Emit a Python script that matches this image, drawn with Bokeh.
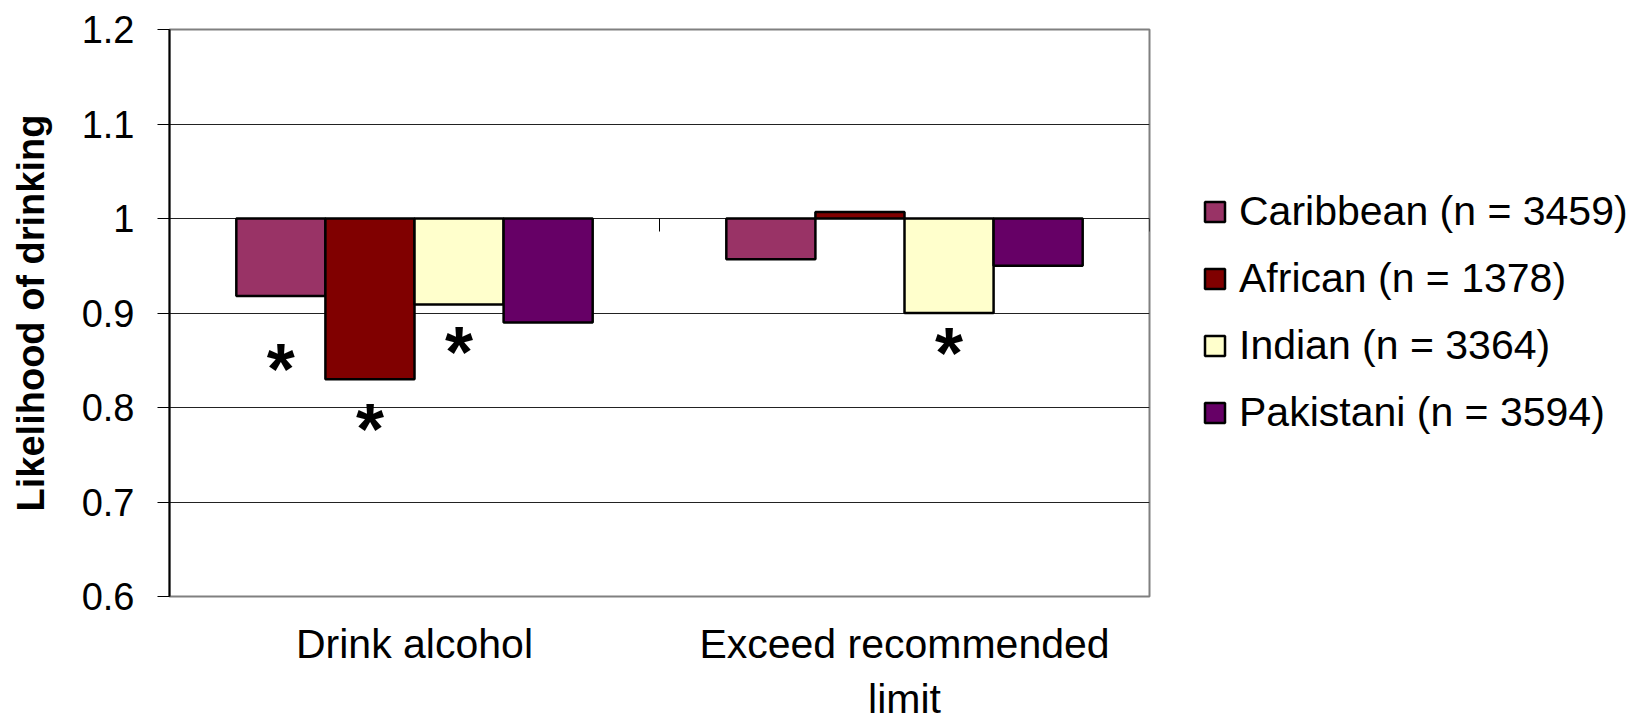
import math
from bokeh.plotting import figure
from bokeh.models import (ColumnDataSource, FactorRange, FixedTicker,
                          CustomJSTickFormatter, Legend, LegendItem)
from bokeh.transform import dodge
from bokeh.core.properties import value
from bokeh.embed import file_html
from bokeh.resources import INLINE

# ---------------- data ----------------
categories = ["Drink alcohol", "Exceed recommended\nlimit"]
series_names = ["Caribbean (n = 3459)", "African (n = 1378)",
                "Indian (n = 3364)", "Pakistani (n = 3594)"]
caribbean = [0.918, 0.957]
african = [0.830, 1.007]
indian = [0.909, 0.900]
pakistani = [0.890, 0.950]
series_values = [caribbean, african, indian, pakistani]
colors = ["#993366", "#800000", "#FFFFCC", "#660066"]
y_ticks = [0.6, 0.7, 0.8, 0.9, 1.0, 1.1, 1.2]
reference_value = 1.0  # bars grow from the axis crossing at 1

# significance markers (*)
star_category = [0, 0, 0, 1]
star_series = [0, 1, 2, 2]
star_value = [0.854, 0.791, 0.872, 0.871]

FONT = "Liberation Sans"
n = len(series_names)
gap_width = 1.5
bar_w = 1.0 / (n + gap_width)
offsets = [(i - (n - 1) / 2) * bar_w for i in range(n)]

p = figure(x_range=FactorRange(*categories), y_range=(y_ticks[0], y_ticks[-1]),
           frame_width=980, frame_height=567,
           output_backend="svg", toolbar_location=None,
           min_border_left=169, min_border_right=0, min_border_top=29,
           min_border_bottom=120)
p.background_fill_color = "white"
p.border_fill_color = "white"
p.outline_line_color = "#808080"
p.outline_line_width = 2

src = ColumnDataSource(dict(cat=categories,
                            **{f"s{i}": v for i, v in enumerate(series_values)},
                            base=[reference_value] * len(categories)))

items = []
for i, name in enumerate(series_names):
    r = p.vbar(x=dodge("cat", offsets[i], range=p.x_range), top=f"s{i}",
               bottom="base", width=bar_w, source=src,
               fill_color=colors[i], line_color="black", line_width=2.5)
    items.append(LegendItem(label=name, renderers=[r]))

# category boundary ticks on the horizontal axis (crossing at 1)
bx = list(range(1, len(categories) + 1))
p.ray(x=bx, y=[reference_value] * len(bx), length=13, length_units="screen",
      angle=-math.pi / 2, line_color="black", line_width=1)

# stars
sx = [c + 0.5 + offsets[s] for c, s in zip(star_category, star_series)]
star_src = ColumnDataSource(dict(x=sx, y=star_value, t=["*"] * len(sx)))
p.text(x="x", y="y", text="t", source=star_src, text_font=value(FONT),
       text_font_style="bold", text_font_size="72px", text_align="center",
       text_baseline="alphabetic", y_offset=13, text_color="black")

# axes
p.yaxis.ticker = FixedTicker(ticks=y_ticks)
p.yaxis.formatter = CustomJSTickFormatter(code="return (Math.round(tick*10)/10).toString();")
p.yaxis.major_tick_out = 12
p.yaxis.major_tick_in = 0
p.yaxis.minor_tick_out = 0
p.yaxis.minor_tick_in = 0
p.yaxis.axis_line_color = "black"
p.yaxis.axis_line_width = 2
p.yaxis.major_tick_line_color = "black"
p.yaxis.major_label_standoff = 23
p.yaxis.major_label_text_font = FONT
p.yaxis.major_label_text_font_size = "38px"
p.yaxis.major_label_text_color = "black"
p.yaxis.axis_label = "Likelihood of drinking"
p.yaxis.axis_label_text_font = FONT
p.yaxis.axis_label_text_font_style = "bold"
p.yaxis.axis_label_text_font_size = "38px"
p.yaxis.axis_label_text_color = "black"
p.yaxis.axis_label_standoff = 27

p.xaxis.axis_line_color = None
p.xaxis.major_tick_line_color = None
p.xaxis.minor_tick_line_color = None
p.xaxis.major_label_standoff = 18
p.xaxis.major_label_text_font = FONT
p.xaxis.major_label_text_font_size = "41px"
p.xaxis.major_label_text_color = "black"

p.xgrid.grid_line_color = None
p.ygrid.ticker = FixedTicker(ticks=y_ticks[1:-1])
p.ygrid.grid_line_color = "#222222"
p.ygrid.grid_line_width = 1

legend = Legend(items=items, location=(53, 160), margin=0, padding=0,
                glyph_width=25, glyph_height=25, label_standoff=12,
                label_height=25, label_width=442, spacing=20,
                label_text_font=FONT, label_text_font_size="41px",
                label_text_color="black", border_line_color=None,
                background_fill_alpha=0)
p.add_layout(legend, "right")

open("out.html", "w").write(file_html(p, INLINE))
